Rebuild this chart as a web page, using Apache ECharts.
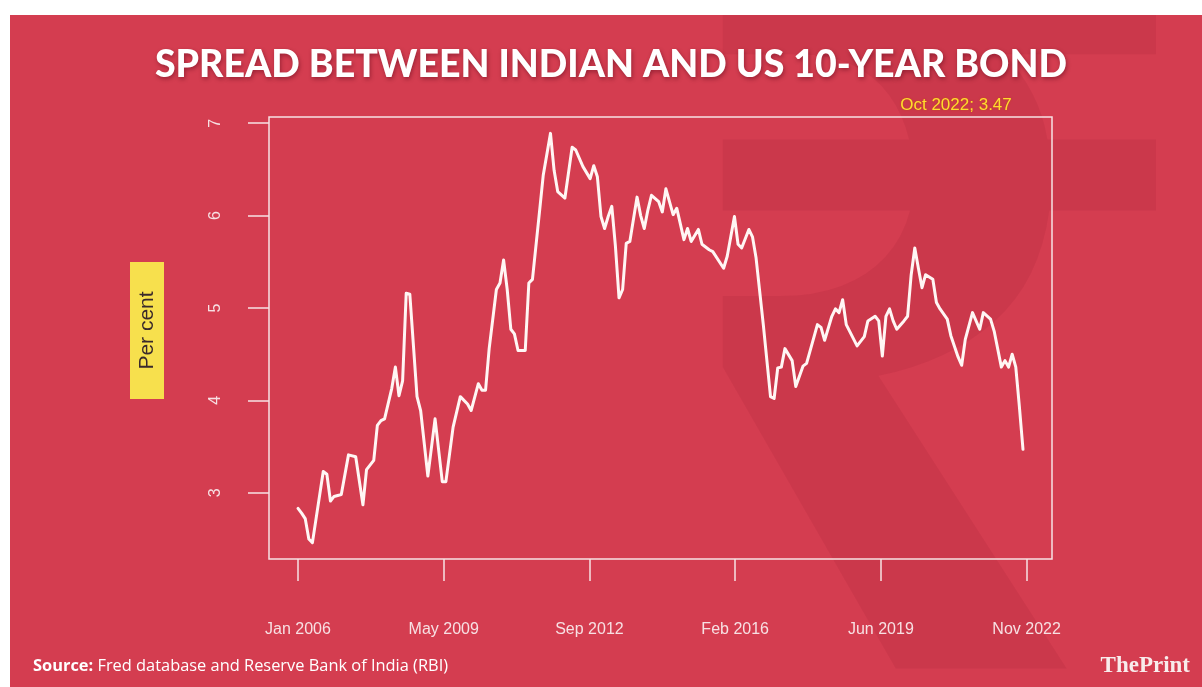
<!DOCTYPE html>
<html>
<head>
<meta charset="utf-8">
<script src="https://cdn.jsdelivr.net/npm/echarts/dist/echarts.min.js"></script>
<style>
html,body{margin:0;padding:0;background:#ffffff;}
#chart{width:1202px;height:687px;}
</style>
</head>
<body>
<div id="chart"></div>
<script>
// ---------------- DATA ----------------
const titleText = 'SPREAD BETWEEN INDIAN AND US 10-YEAR BOND';
const annotationText = 'Oct 2022; 3.47';
const yAxisTitle = 'Per cent';
const sourceLabel = 'Source:';
const sourceText = 'Fred database and Reserve Bank of India (RBI)';

// month of each reading (YYYY-MM) and spread in per cent
const months = [
  '2006-01','2006-02','2006-03','2006-04','2006-05','2006-08','2006-09','2006-10','2006-11','2006-12',
  '2007-01','2007-03','2007-05','2007-07','2007-08','2007-10','2007-11','2007-12',
  '2008-01','2008-03','2008-04','2008-05','2008-06','2008-07','2008-08','2008-10','2008-11',
  '2009-01','2009-03','2009-05','2009-06','2009-08','2009-10','2009-12',
  '2010-01','2010-03','2010-04','2010-05','2010-06','2010-08','2010-09','2010-10','2010-11','2010-12',
  '2011-01','2011-02','2011-04','2011-05','2011-06','2011-08','2011-09','2011-11','2011-12',
  '2012-01','2012-03','2012-05','2012-06','2012-08','2012-10','2012-11','2012-12',
  '2013-01','2013-02','2013-03','2013-04','2013-05','2013-06','2013-07','2013-08','2013-09','2013-11','2013-12',
  '2014-01','2014-02','2014-03','2014-05','2014-06','2014-07','2014-09','2014-10','2014-12',
  '2015-01','2015-02','2015-04','2015-05','2015-07','2015-08','2015-11','2015-12',
  '2016-02','2016-03','2016-04','2016-06','2016-07','2016-08','2016-09','2016-10','2016-12',
  '2017-01','2017-02','2017-03','2017-04','2017-06','2017-07','2017-09','2017-10','2017-12',
  '2018-01','2018-02','2018-03','2018-05','2018-06','2018-07','2018-08','2018-09','2018-12',
  '2019-02','2019-03','2019-05','2019-06','2019-07','2019-08','2019-09','2019-10','2019-11',
  '2020-01','2020-02','2020-03','2020-04','2020-05','2020-06','2020-07','2020-09','2020-10','2020-11',
  '2021-01','2021-02','2021-04','2021-05','2021-06','2021-08','2021-10','2021-11',
  '2022-01','2022-02','2022-04','2022-05','2022-06','2022-07','2022-08','2022-09','2022-10'
];
const spread = [
  2.83,2.78,2.72,2.50,2.46,3.23,3.20,2.91,2.96,2.97,
  2.98,3.41,3.39,2.87,3.25,3.35,3.73,3.78,
  3.80,4.13,4.36,4.05,4.21,5.16,5.15,4.04,3.89,
  3.18,3.80,3.12,3.12,3.71,4.04,3.96,
  3.89,4.18,4.11,4.11,4.56,5.20,5.27,5.52,5.20,4.77,
  4.72,4.54,4.54,5.27,5.31,6.06,6.44,6.89,6.49,
  6.26,6.19,6.74,6.71,6.53,6.40,6.54,6.42,
  5.99,5.86,5.99,6.10,5.67,5.11,5.20,5.70,5.72,6.20,6.00,
  5.86,6.06,6.22,6.15,6.04,6.29,6.01,6.08,5.74,
  5.86,5.72,5.85,5.69,5.63,5.61,5.43,5.56,
  5.99,5.69,5.65,5.85,5.77,5.54,5.18,4.82,4.04,
  4.02,4.35,4.36,4.56,4.43,4.15,4.37,4.40,4.68,
  4.82,4.79,4.65,4.91,4.99,4.95,5.09,4.82,4.59,
  4.69,4.86,4.91,4.86,4.48,4.91,4.99,4.86,4.77,
  4.86,4.91,5.36,5.65,5.43,5.22,5.36,5.31,5.06,4.99,
  4.88,4.70,4.47,4.38,4.66,4.95,4.77,4.95,
  4.88,4.75,4.36,4.43,4.36,4.50,4.36,3.93,3.47
];
const xTickLabels = ['Jan 2006','May 2009','Sep 2012','Feb 2016','Jun 2019','Nov 2022'];
const yTickValues = [3, 4, 5, 6, 7];

// ---------------- LAYOUT / STYLE ----------------
const RED = '#D43D50';
const LINE = '#FFF6F4';
const AXIS = '#F6E2E4';
const PLOT = {left: 269, top: 117, width: 783, height: 442};
const BASE = 2006 * 12;
const monthIndex = s => { const [y, m] = s.split('-').map(Number); return y * 12 + (m - 1) - BASE; };
const xs = months.map(monthIndex);
const xFirst = Math.min(...xs), xLast = Math.max(...xs);
const xPad = 0.04 * (xLast - xFirst);
const X_MIN = xFirst - xPad, X_MAX = xLast + xPad;
const yLo = Math.min(...spread), yHi = Math.max(...spread);
const yPad = 0.04 * (yHi - yLo);
const Y_MIN = yLo - yPad, Y_MAX = yHi + yPad;
const tickSpan = xLast + 1;              // ticks run from Jan 2006 to Nov 2022
const xTickInterval = tickSpan / (xTickLabels.length - 1);
const px = v => PLOT.left + PLOT.width * (v - X_MIN) / (X_MAX - X_MIN);
const py = v => PLOT.top + PLOT.height * (Y_MAX - v) / (Y_MAX - Y_MIN);
const yT0 = yTickValues[0], yT1 = yTickValues[yTickValues.length - 1];

const seriesData = xs.map((x, i) => [x, spread[i]]);

const chart = echarts.init(document.getElementById('chart'), null, {renderer: 'canvas'});
chart.setOption({
  animation: false,
  backgroundColor: 'transparent',
  title: [
    {
      text: titleText, left: 606, top: 41, textAlign: 'center',
      textStyle: {color: '#FFFFFF', fontFamily: 'Lato', fontWeight: 900, fontSize: 37.5,
        textShadowColor: 'rgba(80,0,20,0.45)', textShadowBlur: 4, textShadowOffsetX: 1, textShadowOffsetY: 2}
    },
    {
      text: annotationText, left: 951, top: 92, textAlign: 'center',
      textStyle: {color: '#FFDC2E', fontFamily: 'Liberation Sans', fontWeight: 'normal', fontSize: 17,
        textShadowColor: 'rgba(190,80,20,0.9)', textShadowBlur: 2}
    },
    {
      text: '{b|' + sourceLabel + '} ' + sourceText, left: 28, top: 653,
      textStyle: {color: '#FFFFFF', fontFamily: 'Open Sans', fontSize: 16.4, fontWeight: 'normal',
        rich: {b: {fontFamily: 'Open Sans', fontWeight: 'bold', fontSize: 16.4, color: '#FFFFFF'}}}
    },
    {
      text: '{r|The}{b|Print}', right: 7, top: 650,
      textStyle: {color: '#F8ECEC', fontFamily: 'Liberation Serif', fontSize: 23,
        rich: {r: {fontFamily: 'Liberation Serif', fontSize: 23, color: '#F8ECEC'},
               b: {fontFamily: 'Liberation Serif', fontWeight: 'bold', fontSize: 23, color: '#F8ECEC'}}}
    }
  ],
  graphic: [
    {type: 'rect', z: -30, silent: true, shape: {x: 10, y: 15, width: 1192, height: 672}, style: {fill: RED}},
    {type: 'text', z: -29, silent: true, x: 935, y: 395,
     style: {text: '\u20B9', fontFamily: 'Noto Sans', fontSize: 960, fontWeight: 'bold',
             fill: 'rgba(150,20,45,0.13)', align: 'center', verticalAlign: 'middle',
             textAlign: 'center', textVerticalAlign: 'middle'}},
    // white page margins above / left of the red card (hide watermark overflow)
    {type: 'rect', z: -28, silent: true, shape: {x: 0, y: 0, width: 1202, height: 15}, style: {fill: '#FFFFFF'}},
    {type: 'rect', z: -28, silent: true, shape: {x: 0, y: 0, width: 10, height: 687}, style: {fill: '#FFFFFF'}},
    {type: 'rect', z: 5, silent: true, shape: {x: 130, y: 262, width: 34, height: 137}, style: {fill: '#F7E04D'}},
    {type: 'text', z: 6, silent: true, x: 147, y: 330.5, rotation: Math.PI / 2,
     style: {text: yAxisTitle, fontFamily: 'Liberation Sans', fontSize: 21, fill: '#3A2A2C',
             align: 'center', verticalAlign: 'middle', textAlign: 'center', textVerticalAlign: 'middle'}}
  ],
  grid: [
    // data grid (the box)
    {left: PLOT.left, top: PLOT.top, width: PLOT.width, height: PLOT.height,
     show: true, borderColor: AXIS, borderWidth: 1.5, backgroundColor: 'transparent'},
    // x tick grid: Jan 2006 .. Nov 2022
    {left: px(0), top: PLOT.top, width: px(tickSpan) - px(0), height: PLOT.height},
    // y tick grid: 3 .. 7
    {left: PLOT.left, top: py(yT1), width: PLOT.width, height: py(yT0) - py(yT1)}
  ],
  xAxis: [
    {gridIndex: 0, type: 'value', min: X_MIN, max: X_MAX, show: false},
    {gridIndex: 1, type: 'value', min: 0, max: tickSpan, interval: xTickInterval, position: 'bottom',
     axisLine: {show: false}, splitLine: {show: false},
     axisTick: {show: true, inside: false, length: 22, lineStyle: {color: AXIS, width: 1.5}},
     axisLabel: {show: true, margin: 63, color: '#F7E0E3', fontFamily: 'Liberation Sans', fontSize: 16,
       formatter: v => xTickLabels[Math.round(v / xTickInterval)]}},
    {gridIndex: 2, type: 'value', min: 0, max: 1, show: false}
  ],
  yAxis: [
    {gridIndex: 0, type: 'value', min: Y_MIN, max: Y_MAX, show: false},
    {gridIndex: 1, type: 'value', min: 0, max: 1, show: false},
    {gridIndex: 2, type: 'value', min: yT0, max: yT1, interval: 1, position: 'left',
     axisLine: {show: false}, splitLine: {show: false},
     axisTick: {show: true, inside: false, length: 21, lineStyle: {color: AXIS, width: 1.5}},
     axisLabel: {show: true, rotate: 90, margin: 45, color: '#F7E0E3', fontFamily: 'Liberation Sans', fontSize: 16}}
  ],
  series: [{
    type: 'line', xAxisIndex: 0, yAxisIndex: 0, data: seriesData,
    showSymbol: false, symbol: 'none', smooth: false, z: 3,
    lineStyle: {color: LINE, width: 3, join: 'round', cap: 'round'}
  }]
});
</script>
</body>
</html>
